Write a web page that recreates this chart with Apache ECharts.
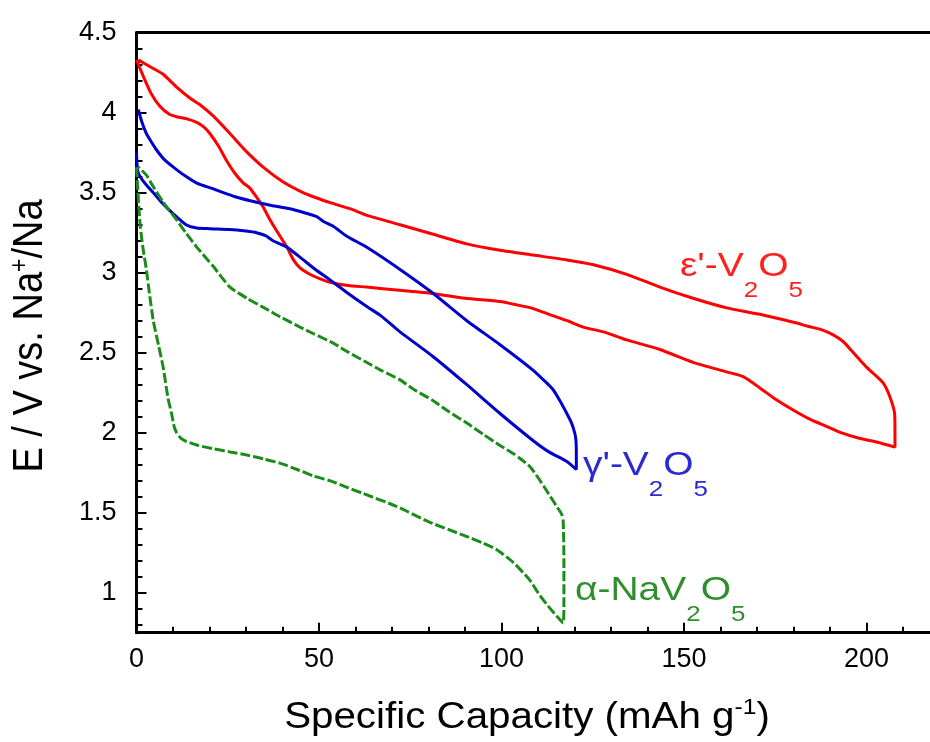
<!DOCTYPE html>
<html>
<head>
<meta charset="utf-8">
<style>
html,body{margin:0;padding:0;background:#fff;overflow:hidden;width:930px;height:742px;}
#chart{width:1060px;height:742px;}
</style>
<script src="https://cdn.jsdelivr.net/npm/echarts@6/dist/echarts.min.js"></script>
</head>
<body>
<div id="chart"></div>
<script>
// ---- data ----
var xTickLabels = [0, 50, 100, 150, 200];
var yTickLabels = [1, 1.5, 2, 2.5, 3, 3.5, 4, 4.5];

// epsilon'-V2O5 : discharge then charge (one closed loop)
var epsX = [0,2,4,6.4,9,11,14,16.5,18.5,20.1,22.5,24.7,27,29.3,31,32.8,34.7,36.6,39,41.2,43,44.8,47.5,50,53,58,63,72,81,90,99.6,104,108,113,118,122.4,128,134.3,143.4,152.5,161.7,166.2,170.8,175,180,184,189,193,198,203,207.8,
            207.8,207.7,206.4,204.6,201.9,200,198.2,196,193.6,191,188.2,184,180,170.8,161.7,152.5,143.4,134.3,125.2,117.9,108.7,99.6,90.5,81.3,72.2,63,58.5,53.5,49,44.8,40,34.7,30,25.6,21,17.4,14.7,11,7.3,3.5,0.5];
var epsY = [4.33,4.22,4.12,4.04,3.99,3.975,3.96,3.94,3.91,3.87,3.79,3.70,3.62,3.56,3.53,3.475,3.41,3.33,3.24,3.16,3.08,3.03,2.99,2.965,2.94,2.92,2.91,2.89,2.87,2.84,2.82,2.80,2.78,2.74,2.70,2.66,2.63,2.58,2.52,2.44,2.38,2.35,2.28,2.21,2.14,2.09,2.04,2.00,1.965,1.94,1.91,
            2.00,2.12,2.225,2.31,2.37,2.41,2.455,2.51,2.57,2.61,2.64,2.665,2.69,2.74,2.78,2.84,2.91,2.99,3.05,3.08,3.11,3.14,3.18,3.24,3.30,3.36,3.40,3.435,3.47,3.51,3.57,3.66,3.76,3.87,3.98,4.05,4.09,4.16,4.24,4.29,4.33];

// gamma'-V2O5
var gamX = [0,0.3,1,3,5,7.3,10,13.6,16.5,20,25.6,30,32.9,35.5,37.4,41.2,43.5,45.7,49,53,58,63,67,72.2,81.3,90.5,99.6,108.7,113,117.9,120.5,
            120.5,120.4,120.1,119.2,117.9,116,114.1,111.5,108.7,99.6,90.5,81.3,72.2,63,57.5,53.9,51.2,49.4,46,42,37,32.9,27,23.8,20.9,16.5,13,10.1,7.5,5.4,4,2.7,1.5,0.5];
var gamY = [3.75,3.64,3.60,3.54,3.49,3.43,3.37,3.30,3.28,3.275,3.27,3.26,3.25,3.23,3.20,3.16,3.12,3.08,3.02,2.955,2.87,2.79,2.73,2.63,2.475,2.30,2.12,1.95,1.88,1.82,1.77,
            1.86,1.95,1.995,2.06,2.12,2.20,2.27,2.33,2.39,2.55,2.70,2.87,3.02,3.16,3.23,3.29,3.32,3.35,3.375,3.40,3.42,3.44,3.475,3.50,3.525,3.56,3.61,3.66,3.71,3.77,3.82,3.87,3.94,4.02];

// alpha-NaV2O5
var alpX = [0,0.4,1,1.8,2.7,3.6,4.6,6,7.3,8.6,9.6,10.3,11,12.2,13.7,17,21,25.6,30.3,35,39.3,44,48.4,53,57.5,62.1,71.2,80.4,89.5,95,98.6,103.2,107.7,110,112.3,114.5,116.9,
            117.1,117.1,116.9,116.5,115.1,113.7,112.3,110,107.7,105,103.2,99.6,95,90.5,85,81.3,76,72.2,67,63,57.5,53.9,48.4,44.8,39.3,35,30.3,25.6,21,16.5,13.5,11,7.3,4,2.7,0.5];
var alpY = [3.66,3.50,3.30,3.15,3.02,2.86,2.70,2.55,2.41,2.22,2.12,2.04,2.00,1.965,1.945,1.92,1.90,1.88,1.86,1.835,1.81,1.77,1.73,1.70,1.66,1.62,1.54,1.44,1.36,1.31,1.27,1.19,1.08,1.00,0.93,0.87,0.81,
            0.95,1.20,1.45,1.49,1.54,1.59,1.64,1.72,1.79,1.84,1.87,1.92,1.99,2.06,2.14,2.20,2.27,2.33,2.39,2.44,2.51,2.56,2.62,2.66,2.725,2.78,2.84,2.91,3.04,3.16,3.25,3.33,3.44,3.56,3.61,3.66];

function pairs(xs, ys) { return xs.map(function (x, i) { return [x, ys[i]]; }); }

var yMinorTicks = [];
for (var k = 8; k <= 44; k++) { if (k % 5 !== 0) yMinorTicks.push(k / 10); }

var FONT = '"Liberation Sans", Arial, sans-serif';
var chart = echarts.init(document.getElementById('chart'), null, {renderer: 'canvas', width: 1060, height: 742});

function curveLabel(parts, color, left, top) {
  return {
    type: 'text', x: left, y: top, scaleX: 1.18, z: 100,
    style: {
      text: parts, fill: color, align: 'left', verticalAlign: 'top',
      font: '33px ' + FONT,
      rich: {
        m: {fontSize: 33, lineHeight: 33, verticalAlign: 'top', fontFamily: FONT, fill: color},
        s: {fontSize: 22, lineHeight: 22, padding: [29.5, 0, 0, 0], verticalAlign: 'top', fontFamily: FONT, fill: color}
      }
    }
  };
}

var option = {
  animation: false,
  backgroundColor: '#fff',
  grid: {left: 136.5, top: 32.7, width: 912.5, height: 600, containLabel: false},
  xAxis: [{
    type: 'value', min: 0, max: 250, interval: 50, position: 'bottom',
    axisLine: {lineStyle: {color: '#000', width: 3}},
    axisTick: {inside: true, length: 10, lineStyle: {color: '#000', width: 2}},
    minorTick: {show: true, splitNumber: 5, length: 6, lineStyle: {color: '#000', width: 2}},
    splitLine: {show: false}, minorSplitLine: {show: false},
    axisLabel: {
      fontSize: 27, fontFamily: FONT, color: '#000', margin: 13,
      formatter: function (v) { return xTickLabels.indexOf(v) >= 0 ? String(v) : ''; }
    }
  }, {
    type: 'value', min: 0, max: 250, position: 'top',
    axisLine: {lineStyle: {color: '#000', width: 3}},
    axisTick: {show: false}, axisLabel: {show: false}, splitLine: {show: false}
  }],
  yAxis: [{
    type: 'value', min: 0.75, max: 4.5, position: 'left',
    axisLine: {lineStyle: {color: '#000', width: 3}},
    axisTick: {inside: true, length: 10, customValues: yTickLabels, lineStyle: {color: '#000', width: 2}},
    axisLabel: {customValues: yTickLabels, fontSize: 27, fontFamily: FONT, color: '#000', margin: 20, padding: [0, 0, 8, 0]},
    splitLine: {show: false}
  }, {
    type: 'value', min: 0.75, max: 4.5, position: 'left',
    axisLine: {show: false},
    axisTick: {inside: true, length: 6, customValues: yMinorTicks, lineStyle: {color: '#000', width: 2}},
    axisLabel: {show: false}, splitLine: {show: false}
  }],
  series: [{
    name: "ε'-V2O5", type: 'line', data: pairs(epsX, epsY), showSymbol: false, symbol: 'none',
    smooth: 0.2, lineStyle: {color: '#ff0000', width: 3}, itemStyle: {color: '#ff0000'}
  }, {
    name: "γ'-V2O5", type: 'line', data: pairs(gamX, gamY), showSymbol: false, symbol: 'none',
    smooth: 0.2, lineStyle: {color: '#0000cc', width: 3}, itemStyle: {color: '#0000cc'}
  }, {
    name: 'α-NaV2O5', type: 'line', data: pairs(alpX, alpY), showSymbol: false, symbol: 'none',
    smooth: 0.2, lineStyle: {color: '#1a8c1a', width: 3, type: [10, 3]}, itemStyle: {color: '#1a8c1a'}
  }],
  graphic: [
    curveLabel("{m|ε'-V}{s|2}{m|O}{s|5}", '#ff2020', 680, 250.5),
    curveLabel("{m|γ'-V}{s|2}{m|O}{s|5}", '#2a2ad0', 583, 449.5),
    curveLabel("{m|α-NaV}{s|2}{m|O}{s|5}", '#2f8f2f', 575, 574.5),
    {
      type: 'text', x: 527, y: 718, z: 100, scaleX: 1.12,
      style: {
        text: '{m|Specific Capacity (mAh g}{u|-1}{m|)}', fill: '#000', align: 'center', verticalAlign: 'middle',
        font: '36px ' + FONT,
        rich: {
          m: {fontSize: 36, lineHeight: 36, verticalAlign: 'bottom', fontFamily: FONT, fill: '#000'},
          u: {fontSize: 22, lineHeight: 22, padding: [0, 0, 17, 0], verticalAlign: 'bottom', fontFamily: FONT, fill: '#000'}
        }
      }
    },
    {
      type: 'text', x: 30, y: 336, z: 100, rotation: Math.PI / 2, scaleY: 1.1,
      style: {
        text: '{m|E / V vs. Na}{u|+}{m|/Na}', fill: '#000', align: 'center', verticalAlign: 'middle',
        font: '38px ' + FONT,
        rich: {
          m: {fontSize: 38, lineHeight: 38, verticalAlign: 'bottom', fontFamily: FONT, fill: '#000'},
          u: {fontSize: 23, lineHeight: 23, padding: [0, 0, 17, 0], verticalAlign: 'bottom', fontFamily: FONT, fill: '#000'}
        }
      }
    }
  ]
};
chart.setOption(option);
</script>
</body>
</html>
